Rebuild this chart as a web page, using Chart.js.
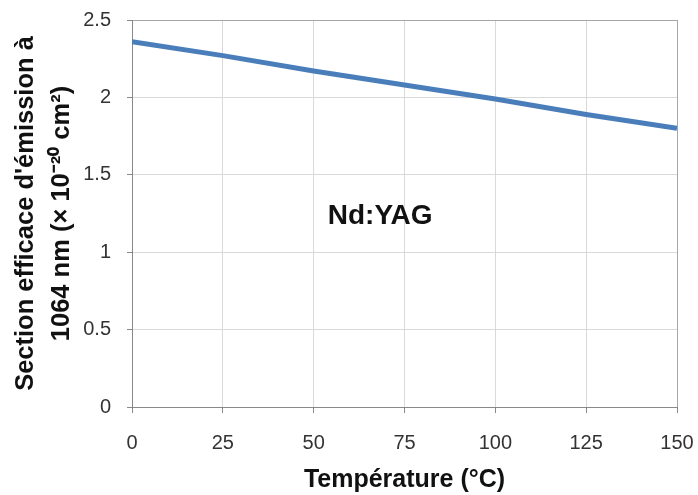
<!DOCTYPE html>
<html>
<head>
<meta charset="utf-8">
<script src="https://cdn.jsdelivr.net/npm/chart.js@4/dist/chart.umd.min.js"></script>
<style>
  html, body { margin: 0; padding: 0; background: #fff; }
  #wrap { width: 698px; height: 495px; }
</style>
</head>
<body>
<div id="wrap"><canvas id="myChart" width="698" height="495"></canvas></div>
<script>
var temperatures = [0, 25, 50, 75, 100, 125, 150];
var crossSection = [2.36, 2.27, 2.17, 2.08, 1.99, 1.89, 1.80];
var xTitle = 'Température (°C)';
var yTitle = ["Section efficace d'émission à", '1064 nm (× 10⁻²⁰ cm²)'];
var label = 'Nd:YAG';

var points = temperatures.map(function (t, i) { return { x: t, y: crossSection[i] }; });

// draws the "Nd:YAG" note at a spot given in data units
var notePlugin = {
  id: 'note',
  afterDraw: function (chart) {
    var ctx = chart.ctx;
    var x = chart.scales.x.getPixelForValue(68.3);
    var y = chart.scales.y.getPixelForValue(1.23);
    ctx.save();
    ctx.font = 'bold 28px "Liberation Sans", Arial, sans-serif';
    ctx.fillStyle = '#111';
    ctx.textAlign = 'center';
    ctx.textBaseline = 'middle';
    ctx.fillText(label, x, y);
    ctx.restore();
  }
};

var fontFamily = '"Liberation Sans", Arial, sans-serif';
var tickFont = { family: fontFamily, size: 20 };

// outer grid lines (top and right) a bit darker, like a plot border
function gridColor(ctx) {
  var scale = ctx.scale;
  if (ctx.tick && ctx.tick.value === scale.max) return '#a6a6a6';
  return '#d9d9d9';
}

new Chart('myChart', {
  type: 'line',
  data: {
    datasets: [{
      data: points,
      borderColor: '#4a7ebb',
      borderWidth: 5,
      pointRadius: 0,
      fill: false,
      tension: 0
    }]
  },
  options: {
    responsive: false,
    animation: false,
    layout: { padding: { left: 0, right: 21, top: 20, bottom: 0 } },
    plugins: {
      legend: { display: false },
      tooltip: { enabled: false }
    },
    scales: {
      x: {
        type: 'linear',
        min: 0,
        max: 150,
        ticks: { stepSize: 25, color: '#333', font: tickFont, padding: 18 },
        grid: { color: gridColor, tickColor: '#888', tickLength: 6 },
        border: { color: '#888', width: 1 },
        title: { display: true, text: xTitle, color: '#111', font: { family: fontFamily, size: 25, weight: 'bold' }, padding: { top: 0, bottom: 0 } },
        afterFit: function (scale) {
          scale.height = 88;
          scale.paddingLeft = 0;
          scale.paddingRight = 0;
        }
      },
      y: {
        min: 0,
        max: 2.5,
        ticks: {
          stepSize: 0.5, color: '#333', font: tickFont, padding: 16,
          callback: function (v) { return String(v); }
        },
        grid: { color: gridColor, tickColor: '#888', tickLength: 5 },
        border: { color: '#888', width: 1 },
        title: {
          display: true, text: yTitle, color: '#111',
          font: { family: fontFamily, size: 25.5, weight: 'bold', lineHeight: 1.45 },
          padding: { top: 7, bottom: 0 }
        },
        afterFit: function (scale) {
          scale.width = 132;
          scale.paddingTop = 0;
          scale.paddingBottom = 0;
        }
      }
    }
  },
  plugins: [notePlugin]
});
</script>
</body>
</html>
